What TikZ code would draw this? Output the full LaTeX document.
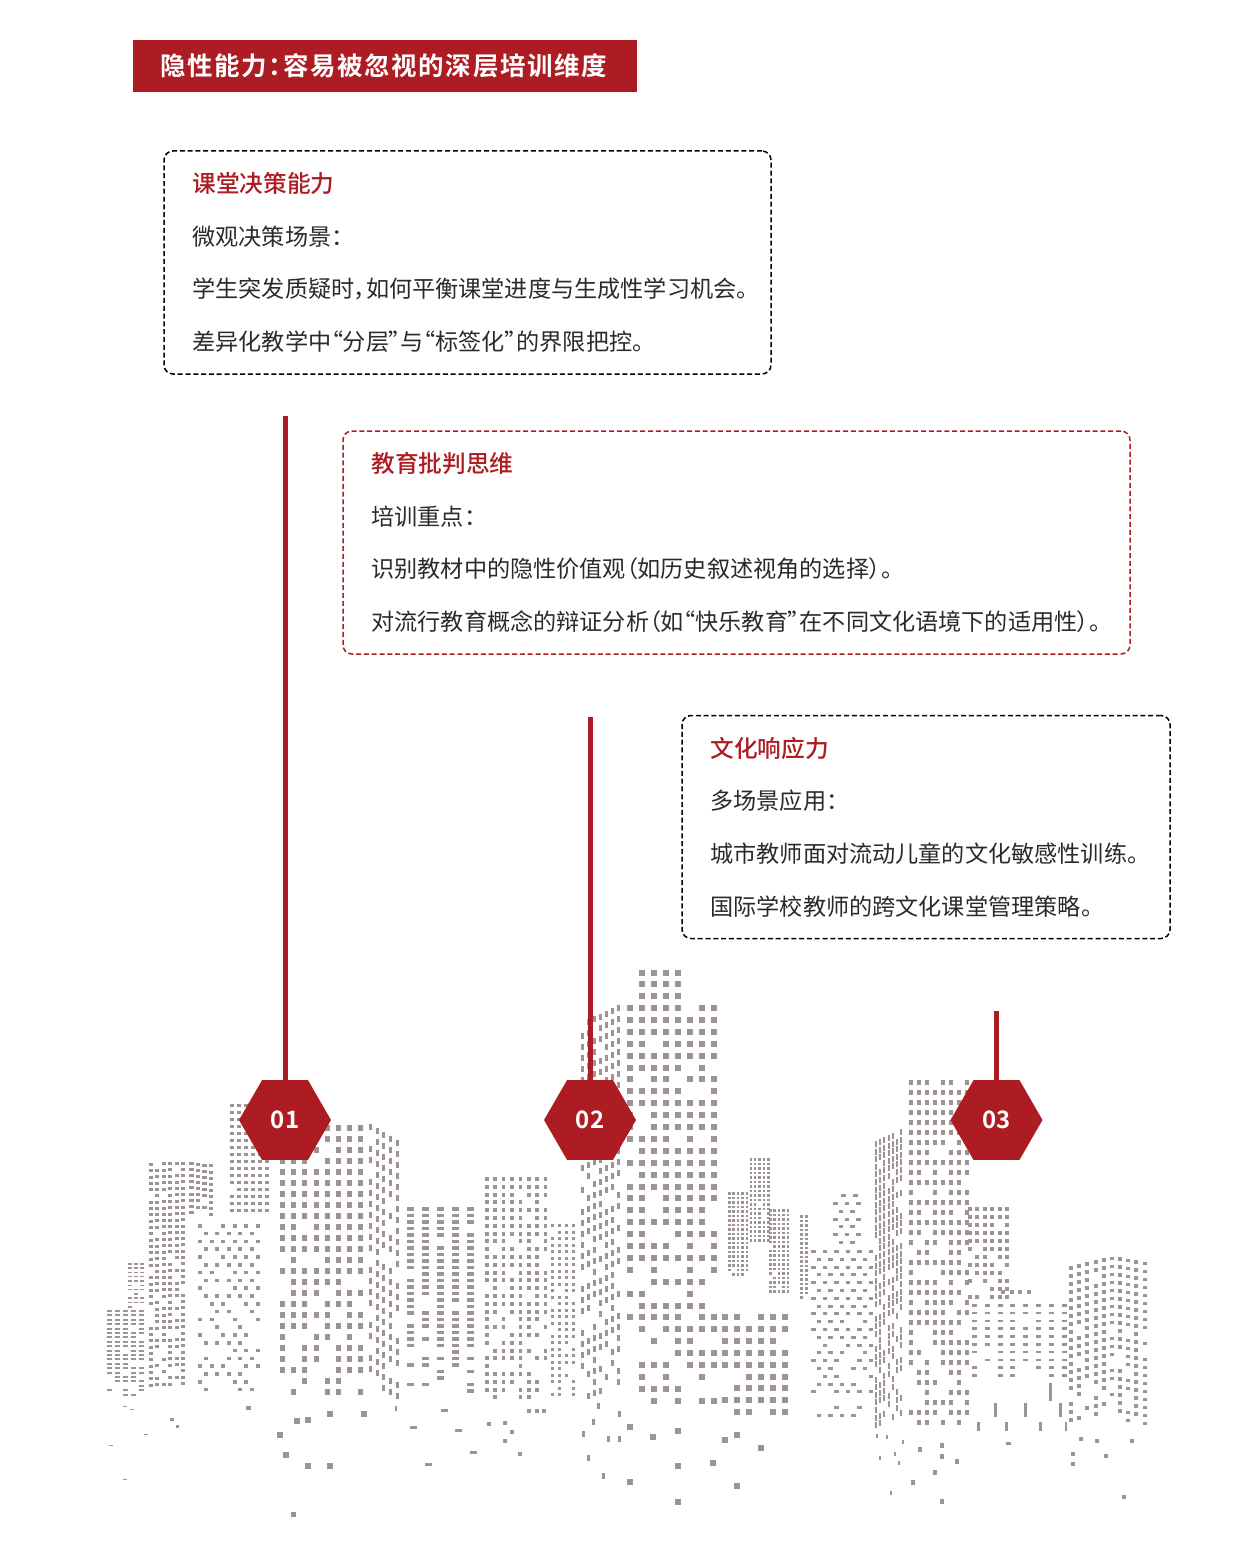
\documentclass[tikz,border=0pt]{standalone}
\usepackage{fontspec}
\usepackage{xcolor}
\usetikzlibrary{positioning,shapes.geometric}
\setmainfont[RawFeature={+palt},BoldFont={Noto Sans CJK SC Medium}]{Noto Sans CJK SC}
\newfontfamily\heavyfont[RawFeature={+palt}]{Noto Sans CJK SC Bold}
\definecolor{brickred}{HTML}{AD1C22}
\definecolor{wingray}{HTML}{9E9494}
\definecolor{bodyink}{HTML}{2A2A2A}
\tikzset{
  notebox/.style={line width=1.5pt,dash pattern=on 5pt off 2.8pt,rounded corners=9pt,minimum height=223pt,inner sep=0pt},
  notetext/.style={inner sep=0pt,align=left,text=bodyink,font=\fontsize{23.15}{52.7}\selectfont},
  hexa/.style={regular polygon,regular polygon sides=6,minimum size=92pt,inner sep=0pt,fill=brickred,text=white,font=\fontsize{24}{28}\selectfont\heavyfont},
  stem/.style={draw=brickred,line width=5pt},
  win/.style={fill=wingray}
}
\newcommand{\heading}[1]{{\color{brickred}\fontsize{23.7}{52.7}\selectfont\bfseries #1}}
\begin{document}
\begin{tikzpicture}[x=1pt,y=-1pt]
\useasboundingbox (0,0) rectangle (1241,1562);
\pgfmathsetseed{7}
% City: x/y/cols/rows/dx/dy/w/h/gap/slope/stagger
\foreach \bx/\by/\nx/\ny/\dx/\dy/\w/\h/\gap/\slope/\stag in {
  107/1310/5/20/8/4.4/4.5/2/.3/0/0,
  127.5/1263/3/11/6/4.3/4/1.5/.2/0/0,
  149/1163/6/36/6.4/6.3/4/3/.35/-.3/0,
  189/1162/4/9/6.6/6.1/4.5/3/.15/.8/0,
  230/1104/6/16/7/7/4/3/.03/0/0,
  198/1224/6/22/11.5/7.8/4/3.5/.45/0/5.7,
  280/1125/8/25/11.2/11/5/5.5/.45/0/0,
  369/1124/5/24/6.7/11/3/6/.25/4/0,
  406.5/1207/5/29/15.2/6.5/7/3.5/.5/0/0,
  485/1177/8/29/8.4/7.8/3.5/4/.4/0/0,
  551/1224/4/27/7/6.5/2.5/3/.35/0/0,
  581/1022/7/35/6/11/2.5/6/.5/-2.8/0,
  626.6/1005/8/34/12/11.9/6/6/.5/0/0,
  638.7/969.5/4/3/12/11.9/6/6/.1/0/0,
  722/1314/6/9/12/11.9/6/6/.55/0/0,
  728/1192/5/19/4.4/4.5/2.5/2.5/.03/0/0,
  749.5/1158/5/19/4.4/4.5/2.5/2.5/.03/0/0,
  769/1209/5/19/4.4/4.5/2.5/2.5/.03/0/0,
  800/1215/2/19/5/4.5/2.5/2.5/.05/0/0,
  811/1250/6/22/11.5/7.8/4.5/3/.4/0/5.7,
  833/1202/3/6/11.5/7.8/4.5/3/.05/0/5.7,
  875/1141/7/38/4.2/7.6/2/6/.5/-2/0,
  908.5/1080/8/35/8/10/4/5/.45/0/0,
  968/1207/6/12/7.4/8/4/4/.25/0/0,
  1001/1290/4/1/8.5/8/4/4/0/0/0,
  972/1304/8/10/12.8/7.8/5/2.5/.2/0/0,
  1069/1266/6/20/8.2/8/4/3.5/.35/-1.9/0,
  1118/1257/4/21/8.2/8/4/3.5/.4/1.5/0}{
  \foreach \i in {1,...,\nx}{
    \foreach \j in {1,...,\ny}{
      \pgfmathtruncatemacro{\keep}{(rnd>=\gap*(.15+.85*(\j/\ny)^2))&&!(\stag>0&&mod(\j+1,2)==1&&\i==\nx)?1:0}
      \ifnum\keep=1
        \fill[win] ({\bx+(\i-1)*\dx+mod(\j+1,2)*\stag},{\by+(\j-1)*\dy+(\i-1)*\slope}) rectangle ++(\w,\h);
      \fi
    }
  }
}
% Loose windows under the skyline
\foreach \sx/\sy/\w/\h in {
  170/1418/4/3,176/1425/3/3,144/1434/4/1,109/1445/4/1,123/1479/4/1,130/1409/4/1,123/1406/4/1,
  246/1406/5/4,395/1406/2/5,327/1411/6/6,361/1411/6/6,294/1418/6/6,305/1417/6/6,277/1432/6/6,
  283/1452/6/6,305/1463/6/6,327/1463/6/6,291/1512/5/5,441/1409/7/3,410/1426/7/3,455/1429/7/3,
  470/1451/7/3,425/1463/7/3,487/1422/4/4,503/1421/4/4,510/1430/4/4,503/1439/4/4,518/1452/4/4,
  527/1409/4/4,535/1409/4/4,542/1409/4/4,592/1419/2.5/6,582/1431/2.5/6,607/1436/2.5/6,
  618/1436/2.5/6,587/1455/2.5/6,602/1473/2.5/6,597/1403/2.5/6,618/1411/2.5/6,627/1424/6/6,
  627/1479/6/6,650/1434/6/6,674.5/1428/6/6,722/1437/6/6,734/1432/6/6,758/1445/6/6,674.5/1463/6/6,
  710/1460/6/6,734/1483/6/6,674.5/1499/6/6,875.5/1434/2/4,886/1435/2/4,902/1440/2/4,879/1456/2/4,
  894/1452/2/4,898/1461/2/4,917.5/1447/4/5,940/1443/4/5,940/1454/4/5,955/1459/4/5,933/1470/4/5,
  911/1480/4/5,890/1491/2/4,940/1499/4/5,1006/1442/5/2.5,1079/1437/4/4,1095/1439/4/4,1130/1439/4/4,
  1071/1452/4/4,1071/1462/4/4,1104/1454/4/4,1122/1495/4/4,841/1194/4.5/3,853/1194/4.5/3,
  1049/1383/2.5/18,994/1403/2.5/14,1024/1403/2.5/14,1059/1403/2.5/14,
  977/1422/2.5/9,1005/1422/2.5/9,1039/1422/2.5/9,1064.5/1422/2.5/9}{
  \fill[win] (\sx,\sy) rectangle ++(\w,\h);
}
% Title
\node[fill=brickred,minimum width=504pt,minimum height=52.5pt,inner sep=0pt] (titlebar) at (385,66) {};
\node[right=27pt of titlebar.west,inner sep=0pt,text=white,font=\fontsize{25.5}{30}\selectfont\heavyfont\addfontfeature{LetterSpace=6.5}] (titletext) {隐性能力：容易被忽视的深层培训维度};
% Notes
\node[notebox,draw=black,minimum width=607pt] (box1) at (467.5,262.5) {};
\node[notetext,right=29pt of box1.west] (text1) {\heading{课堂决策能力}\\微观决策场景：\\学生突发质疑时，如何平衡课堂进度与生成性学习机会。\\差异化教学中“分层”与“标签化”的界限把控。};
\node[notebox,draw=brickred,minimum width=787pt] (box2) at (736.5,542.5) {};
\node[notetext,right=29pt of box2.west] (text2) {\heading{教育批判思维}\\培训重点：\\识别教材中的隐性价值观（如历史叙述视角的选择）。\\对流行教育概念的辩证分析（如“快乐教育”在不同文化语境下的适用性）。};
\node[notebox,draw=black,minimum width=488pt] (box3) at (926,827) {};
\node[notetext,right=29pt of box3.west] (text3) {\heading{文化响应力}\\多场景应用：\\城市教师面对流动儿童的文化敏感性训练。\\国际学校教师的跨文化课堂管理策略。};
% Stems and markers
\coordinate (top1) at (285,416);
\coordinate (top2) at (590,717);
\coordinate (top3) at (996.5,1011);
\node[hexa] (hex1) at (285,1120) {01};
\node[hexa] (hex2) at (590,1120) {02};
\node[hexa] (hex3) at (996.5,1120) {03};
\draw[stem] (hex1) -- (top1);
\draw[stem] (hex2) -- (top2);
\draw[stem] (hex3) -- (top3);
\end{tikzpicture}
\end{document}
